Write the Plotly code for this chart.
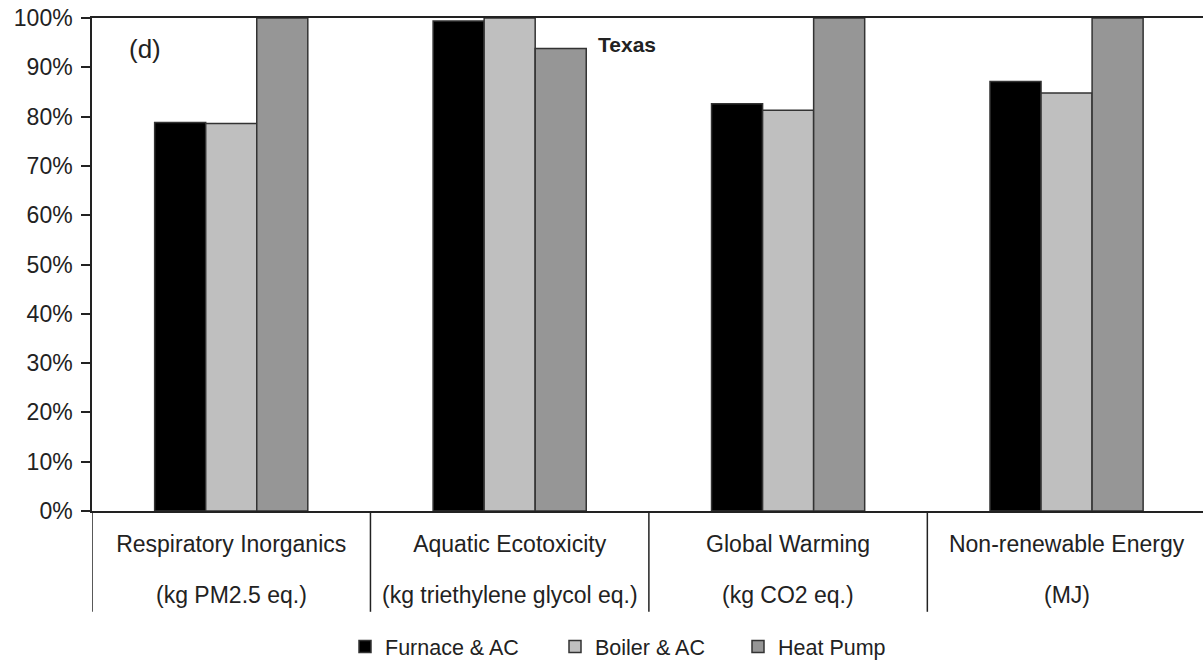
import plotly.graph_objects as go

# Impact categories (top line) and their units (second line)
categories = ["Respiratory Inorganics", "Aquatic Ecotoxicity", "Global Warming", "Non-renewable Energy"]
units = ["(kg PM2.5 eq.)", "(kg triethylene glycol eq.)", "(kg CO2 eq.)", "(MJ)"]

# Relative impact (% of the highest system in each category)
furnace_ac = [78.8, 99.4, 82.6, 87.1]
boiler_ac = [78.6, 100.0, 81.3, 84.8]
heat_pump = [100.0, 93.8, 100.0, 100.0]

y_ticks = list(range(0, 101, 10))

FONT = "Liberation Sans, Arial, Helvetica, sans-serif"
TXT = "#222222"
x_idx = list(range(len(categories)))

series = [
    ("Furnace & AC", furnace_ac, "#000000", "legend"),
    ("Boiler & AC", boiler_ac, "#bfbfbf", "legend2"),
    ("Heat Pump", heat_pump, "#969696", "legend3"),
]

fig = go.Figure()
for name, vals, color, lg in series:
    fig.add_trace(go.Bar(
        x=x_idx, y=vals, name=name, legend=lg,
        marker=dict(color=color, line=dict(color="#333333", width=1.5)),
        hoverinfo="skip",
    ))

W, H = 1203, 667
L, R, T, B = 92, 0, 18, 155
pw, ph = W - L - R, H - T - B


def px_x(p):
    return (p - L) / pw


def px_y(p):
    return (H - B - p) / ph


legend_style = dict(orientation="h", yanchor="middle", xanchor="left",
                    font=dict(family=FONT, size=21.5, color=TXT),
                    bgcolor="rgba(0,0,0,0)", itemclick=False)
fig.update_layout(
    legend=dict(x=px_x(345), y=px_y(648), **legend_style),
    legend2=dict(x=px_x(555), y=px_y(648), **legend_style),
    legend3=dict(x=px_x(738), y=px_y(648), **legend_style),
)

fig.update_layout(
    width=W, height=H,
    margin=dict(l=L, r=R, t=T, b=B, pad=0),
    paper_bgcolor="white", plot_bgcolor="white",
    barmode="group", bargap=0.45, bargroupgap=0,
    font=dict(family=FONT, size=23, color=TXT),
    showlegend=True,
)

fig.update_xaxes(
    type="linear", range=[-0.5, 3.49],
    tickmode="array", tickvals=x_idx, ticktext=categories,
    showgrid=False, zeroline=False,
    showline=True, linecolor=TXT, linewidth=1.5, mirror=True,
    ticks="", tickfont=dict(family=FONT, size=23, color=TXT),
    ticklabelstandoff=12,
)

# Long category separators below the axis
for b in [-0.5, 0.5, 1.5, 2.5]:
    fig.add_shape(type="line", xref="x", yref="paper",
                  x0=b, x1=b, y0=0, y1=px_y(613),
                  line=dict(color=TXT, width=1.5))

fig.update_yaxes(
    range=[0, 100], tickmode="array", tickvals=y_ticks,
    ticktext=[f"{v}%" for v in y_ticks],
    showgrid=False, zeroline=False,
    showline=True, linecolor=TXT, linewidth=1.5, mirror=False,
    ticks="outside", ticklen=9, tickwidth=1.5, tickcolor=TXT,
    tickfont=dict(family=FONT, size=23, color=TXT),
    ticklabelstandoff=4,
)

# Unit line under each category name
for i, u in enumerate(units):
    fig.add_annotation(x=i, y=px_y(596), xref="x", yref="paper", text=u,
                       showarrow=False, yanchor="middle", xanchor="center",
                       font=dict(family=FONT, size=23, color=TXT))

fig.add_annotation(x=px_x(145), y=px_y(49), xref="paper", yref="paper", text="(d)",
                   showarrow=False, xanchor="center", yanchor="middle",
                   font=dict(family=FONT, size=26, color=TXT))
fig.add_annotation(x=px_x(627), y=px_y(45), xref="paper", yref="paper", text="<b>Texas</b>",
                   showarrow=False, xanchor="center", yanchor="middle",
                   font=dict(family=FONT, size=21, color=TXT))

fig.write_html("out.html")
